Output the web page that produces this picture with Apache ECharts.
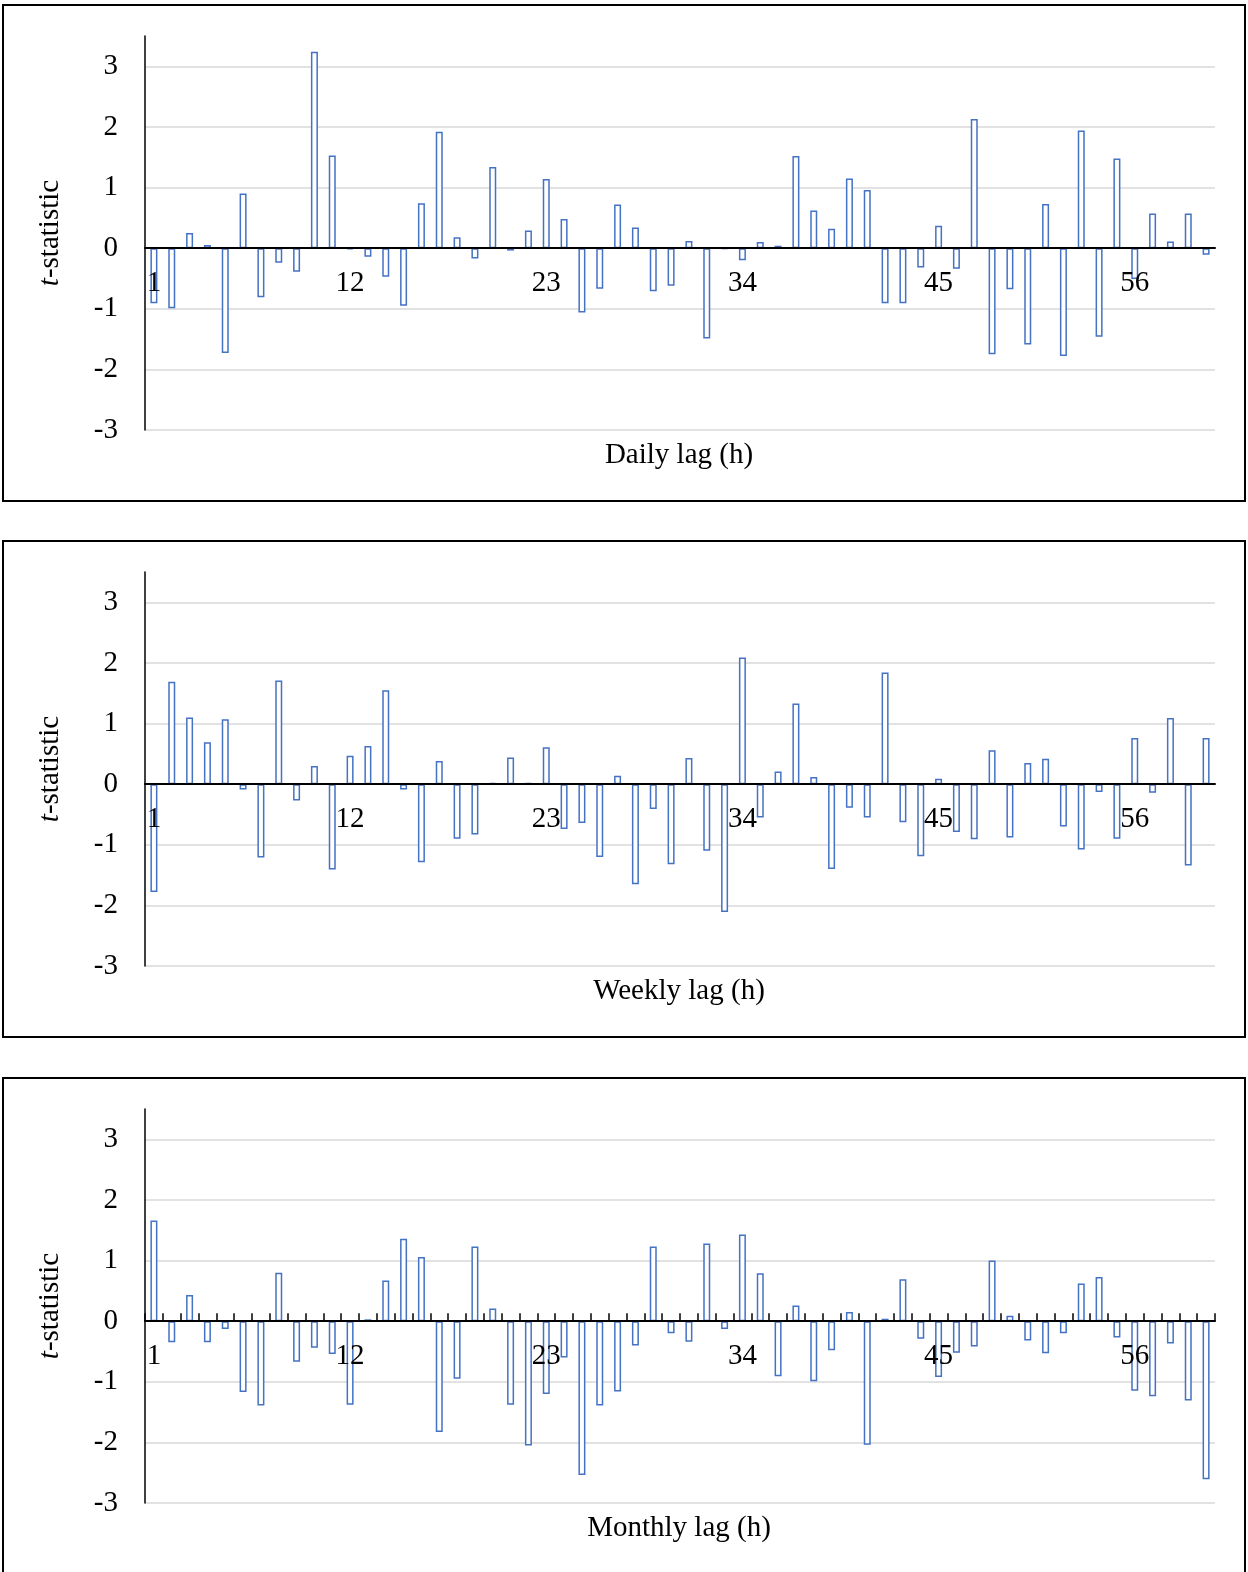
<!DOCTYPE html>
<html>
<head>
<meta charset="utf-8">
<script src="https://cdn.jsdelivr.net/npm/echarts@6/dist/echarts.min.js"></script>
<style>
html,body{margin:0;padding:0;background:#fff;}
#chart{width:1248px;height:1572px;}
</style>
</head>
<body>
<div id="chart"></div>
<script>
// ---- data ----
var lags = [];
for (var i = 1; i <= 60; i++) lags.push(String(i));

var dailyT = [-0.91,-0.99,0.25,0.05,-1.73,0.90,-0.81,-0.24,-0.39,3.24,
              1.53,-0.02,-0.14,-0.47,-0.95,0.74,1.92,0.18,-0.17,1.34,
              -0.04,0.29,1.14,0.48,-1.06,-0.67,0.72,0.34,-0.71,-0.62,
              0.12,-1.49,-0.01,-0.20,0.10,0.04,1.52,0.62,0.32,1.15,
              0.96,-0.91,-0.91,-0.32,0.37,-0.34,2.13,-1.75,-0.68,-1.59,
              0.73,-1.78,1.94,-1.46,1.48,-0.51,0.57,0.11,0.57,-0.11];

var weeklyT = [-1.78,1.69,1.10,0.69,1.07,-0.09,-1.21,1.71,-0.27,0.30,
               -1.41,0.47,0.63,1.55,-0.09,-1.29,0.38,-0.90,-0.83,0.02,
               0.44,0.02,0.61,-0.74,-0.64,-1.20,0.14,-1.65,-0.41,-1.32,
               0.43,-1.10,-2.11,2.09,-0.55,0.21,1.33,0.12,-1.40,-0.39,
               -0.55,1.84,-0.63,-1.19,0.09,-0.79,-0.91,0.56,-0.88,0.35,
               0.42,-0.70,-1.08,-0.13,-0.90,0.76,-0.14,1.09,-1.34,0.76];

var monthlyT = [1.66,-0.35,0.43,-0.35,-0.13,-1.17,-1.39,0.80,-0.67,-0.44,
                -0.54,-1.38,0.03,0.67,1.36,1.06,-1.83,-0.95,1.23,0.21,
                -1.38,-2.05,-1.20,-0.60,-2.54,-1.39,-1.16,-0.40,1.23,-0.20,
                -0.34,1.28,-0.13,1.43,0.79,-0.91,0.26,-0.99,-0.48,0.15,
                -2.04,0.04,0.69,-0.29,-0.92,-0.52,-0.42,1.00,0.09,-0.32,
                -0.53,-0.20,0.62,0.73,-0.27,-1.15,-1.24,-0.37,-1.31,-2.61];

var panelTitles = ['Daily lag (h)', 'Weekly lag (h)', 'Monthly lag (h)'];
var yTicks = [-3,-2,-1,0,1,2,3];
var yMin = -3, yMax = 3.5;
// ---- end data ----

var FONT = '"Liberation Serif", "Times New Roman", serif';
var panelTops = [5, 541, 1078];
var seriesData = [dailyT, weeklyT, monthlyT];
var gridH = 394;
// place the category axis on the zero line (labels move with it)
var zeroOffset = -gridH * (0 - yMin) / (yMax - yMin);

var grids = [], xAxes = [], yAxes = [], series = [], graphics = [];
for (var p = 0; p < 3; p++) {
  var pTop = panelTops[p];
  grids.push({left: 145, width: 1070, top: pTop + 31, height: gridH});
  xAxes.push({
    type: 'category', gridIndex: p, data: lags, position: 'bottom',
    offset: zeroOffset, z: 10,
    axisLine: {onZero: false, lineStyle: {color: '#000', width: 2}},
    axisTick: {show: p === 2, inside: true, length: 8, interval: 0,
               lineStyle: {color: '#000', width: 1.5}},
    axisLabel: {interval: 10, margin: 21, color: '#000', fontSize: 29,
                fontFamily: FONT},
    splitLine: {show: false}
  });
  yAxes.push({
    type: 'value', gridIndex: p, min: yMin, max: yMax, interval: 1,
    name: '{i|t}-statistic', nameLocation: 'middle', nameGap: 80,
    nameTextStyle: {color: '#000', fontSize: 29, fontFamily: FONT,
      rich: {i: {fontStyle: 'italic', fontSize: 29, fontFamily: FONT, color: '#000'}}},
    axisLine: {show: true, onZero: false, lineStyle: {color: '#000', width: 1.5}},
    axisTick: {show: false},
    axisLabel: {margin: 27, color: '#000', fontSize: 29, fontFamily: FONT,
      formatter: function (v) { return yTicks.indexOf(v) >= 0 ? String(v) : ''; }},
    splitLine: {show: true, showMaxLine: false, lineStyle: {color: '#d9d9d9', width: 1.5}}
  });
  series.push({
    type: 'bar', xAxisIndex: p, yAxisIndex: p, data: seriesData[p],
    barWidth: 7,
    itemStyle: {color: '#ffffff', borderColor: '#4472C4', borderWidth: 1.5},
    emphasis: {disabled: true}
  });
  graphics.push({
    type: 'rect', shape: {x: 3, y: pTop, width: 1242, height: 496},
    style: {fill: 'none', stroke: '#000', lineWidth: 2}, silent: true
  });
  graphics.push({
    type: 'text', x: 679, y: pTop + 450,
    style: {text: panelTitles[p], fontSize: 29, fontFamily: FONT, fill: '#000',
            align: 'center', verticalAlign: 'middle'}, silent: true
  });
}

var chart = echarts.init(document.getElementById('chart'), null, {renderer: 'canvas'});
chart.setOption({
  animation: false,
  backgroundColor: '#fff',
  grid: grids, xAxis: xAxes, yAxis: yAxes, series: series,
  graphic: graphics
});
</script>
</body>
</html>
